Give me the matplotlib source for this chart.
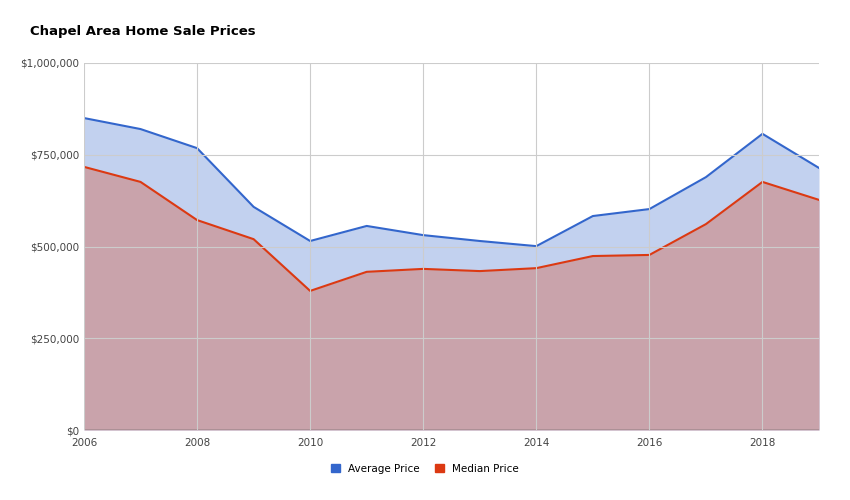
import matplotlib
matplotlib.use("Agg")
import matplotlib.pyplot as plt
from matplotlib.ticker import FuncFormatter

years = list(range(2006, 2020))
average_price = [850000, 820000, 768000, 608000, 515000, 556000, 531000, 515000, 501000, 583000, 602000, 689000, 807000, 714000]
median_price = [717000, 676000, 572000, 520000, 379000, 431000, 439000, 433000, 441000, 474000, 477000, 561000, 676000, 627000]
x_ticks = list(range(2006, 2020, 2))
y_ticks = [0, 250000, 500000, 750000, 1000000]

fig = plt.figure(figsize=(8.5, 5), dpi=100)
ax = fig.add_axes([84/850, 70/500, 735/850, 367/500])
blue = "#3366cc"
red = "#dc3912"
ax.fill_between(years, average_price, color="#c2d1ef", lw=0)
ax.fill_between(years, median_price, color="#c9a3ab", lw=0)
ax.plot(years, average_price, color=blue, lw=1.5, label="Average Price")
ax.plot(years, median_price, color=red, lw=1.5, label="Median Price")
ax.set_xlim(2006, 2019)
ax.set_ylim(0, 1000000)
ax.set_xticks(x_ticks)
ax.set_yticks(y_ticks)
ax.yaxis.set_major_formatter(FuncFormatter(lambda v, p: f"${v:,.0f}"))
ax.grid(True, color="#cccccc", lw=0.8)
ax.set_axisbelow(False)
for s in ax.spines.values():
    s.set_visible(False)
ax.axhline(0, color="#333333", lw=1)
ax.tick_params(length=0, labelsize=7.5, colors="#444444")
ax.tick_params(axis="x", pad=6)
fig.text(30/850, 1 - 32/500, "Chapel Area Home Sale Prices", fontsize=9.5, fontweight="bold", va="center")
leg = fig.legend(handles=[plt.Rectangle((0,0),1,1,color=blue), plt.Rectangle((0,0),1,1,color=red)],
                 labels=["Average Price", "Median Price"], loc="center", bbox_to_anchor=(0.5, 1 - 469/500),
                 ncol=2, frameon=False, fontsize=7.5, handlelength=0.8, handleheight=0.8, columnspacing=1.5)
fig.savefig("out.png")
